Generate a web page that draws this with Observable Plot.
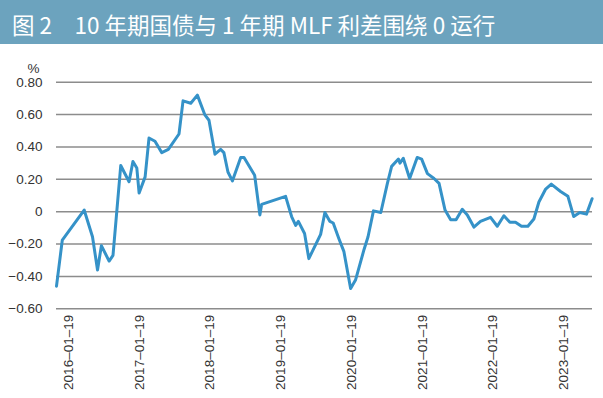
<!DOCTYPE html>
<html>
<head>
<meta charset="utf-8">
<script src="https://cdn.jsdelivr.net/npm/d3@7"></script>
<script src="https://cdn.jsdelivr.net/npm/@observablehq/plot@0.6"></script>
<style>
  html, body { margin: 0; padding: 0; background: #ffffff; }
  #title {
    width: 603px; height: 44px; background: #6ca3be; color: #ffffff;
    font-family: "Noto Sans CJK SC", "Noto Sans", sans-serif; font-size: 22.5px;
    line-height: 48px; padding-left: 12px; box-sizing: border-box; white-space: pre; overflow: hidden;
  }
  #chart svg { display: block; }
</style>
</head>
<body>
<div id="title">图 2　10 年期国债与 1 年期 MLF 利差围绕 0 运行</div>
<div id="chart"></div>
<script>
const dates = [
  "2015-11-17","2015-12-17","2016-04-08","2016-05-21","2016-06-16","2016-07-06","2016-08-15","2016-09-04",
  "2016-10-14","2016-11-26","2016-12-16","2017-01-05","2017-01-17","2017-02-17","2017-03-09","2017-04-09",
  "2017-05-14","2017-06-17","2017-08-11","2017-09-01","2017-10-11","2017-11-14","2017-12-22","2018-01-13",
  "2018-02-13","2018-03-14","2018-03-31","2018-04-21","2018-05-14","2018-06-26","2018-07-13","2018-09-06",
  "2018-10-03","2018-10-12","2019-02-13","2019-03-16","2019-04-06","2019-04-20","2019-05-22","2019-06-13",
  "2019-08-13","2019-09-04","2019-09-30","2019-10-17","2019-11-15","2019-12-11","2020-01-15","2020-02-10",
  "2020-03-24","2020-04-14","2020-05-12","2020-06-19","2020-07-23","2020-08-14","2020-09-18","2020-09-26",
  "2020-10-13","2020-11-15","2020-12-24","2021-01-16","2021-02-15","2021-03-21","2021-04-16","2021-05-17",
  "2021-06-15","2021-07-13","2021-08-14","2021-09-09","2021-10-13","2021-11-16","2022-01-07","2022-02-11",
  "2022-03-17","2022-04-17","2022-05-16","2022-06-16","2022-07-19","2022-08-19","2022-09-14","2022-10-19",
  "2022-11-17","2023-01-04","2023-02-11","2023-03-13","2023-04-13","2023-05-18","2023-06-16"
];
const spread = [
  -0.46,-0.175,0.01,-0.155,-0.36,-0.21,-0.305,-0.27,
  0.285,0.185,0.31,0.27,0.115,0.215,0.455,0.435,
  0.365,0.385,0.48,0.685,0.67,0.72,0.60,0.565,
  0.355,0.385,0.365,0.245,0.19,0.335,0.335,0.225,
  -0.02,0.045,0.095,-0.03,-0.085,-0.06,-0.135,-0.29,
  -0.14,-0.005,-0.06,-0.07,-0.165,-0.245,-0.475,-0.42,
  -0.235,-0.155,0.005,-0.005,0.175,0.28,0.325,0.30,
  0.33,0.205,0.335,0.325,0.235,0.205,0.175,0.01,
  -0.05,-0.05,0.015,-0.02,-0.095,-0.06,-0.035,-0.09,
  -0.025,-0.065,-0.065,-0.09,-0.09,-0.045,0.06,0.14,
  0.17,0.125,0.095,-0.03,-0.005,-0.015,0.08
];
const yTicks = [-0.6,-0.4,-0.2,0,0.2,0.4,0.6,0.8];
const yTickLabels = ["−0.60","−0.40","−0.20","0","0.20","0.40","0.60","0.80"];
const xTickDates = ["2016-01-19","2017-01-19","2018-01-19","2019-01-19","2020-01-19","2021-01-19","2022-01-19","2023-01-19"];
const xTickLabels = ["2016–01–19","2017–01–19","2018–01–19","2019–01–19","2020–01–19","2021–01–19","2022–01–19","2023–01–19"];
const unitLabel = "%";

const data = dates.map((d, i) => ({date: new Date(d + "T00:00:00Z"), value: spread[i]}));
const xTicks = xTickDates.map(d => new Date(d + "T00:00:00Z"));
const xLabelMap = new Map(xTicks.map((d, i) => [d.getTime(), xTickLabels[i]]));
const yLabelMap = new Map(yTicks.map((d, i) => [d, yTickLabels[i]]));

const chart = Plot.plot({
  width: 603,
  height: 354,
  marginTop: 37.7,
  marginBottom: 89.7,
  marginLeft: 56,
  marginRight: 11,
  style: {fontFamily: "'Liberation Sans', Arial, sans-serif", fontSize: "13.5px", color: "#333333", background: "#ffffff"},
  x: {type: "utc", domain: [new Date("2015-11-17T00:00:00Z"), new Date("2023-06-18T00:00:00Z")]},
  y: {domain: [-0.6, 0.8]},
  marks: [
    Plot.ruleY(yTicks, {stroke: "#8c8c8c", strokeWidth: 1.6}),
    Plot.axisY({ticks: yTicks, tickSize: 0, tickPadding: 14, tickFormat: d => yLabelMap.get(Math.round(d * 10) / 10), label: null}),
    Plot.axisX({ticks: xTicks, tickSize: 0, tickPadding: 6, tickRotate: -90, tickFormat: d => xLabelMap.get(d.getTime()), label: null}),
    Plot.lineY(data, {x: "date", y: "value", stroke: "#3592c8", strokeWidth: 3, strokeLinejoin: "round"}),
    Plot.text([unitLabel], {text: d => d, frameAnchor: "top-left", textAnchor: "middle", dx: -23, dy: -19})
  ]
});
document.getElementById("chart").appendChild(chart);
</script>
</body>
</html>
